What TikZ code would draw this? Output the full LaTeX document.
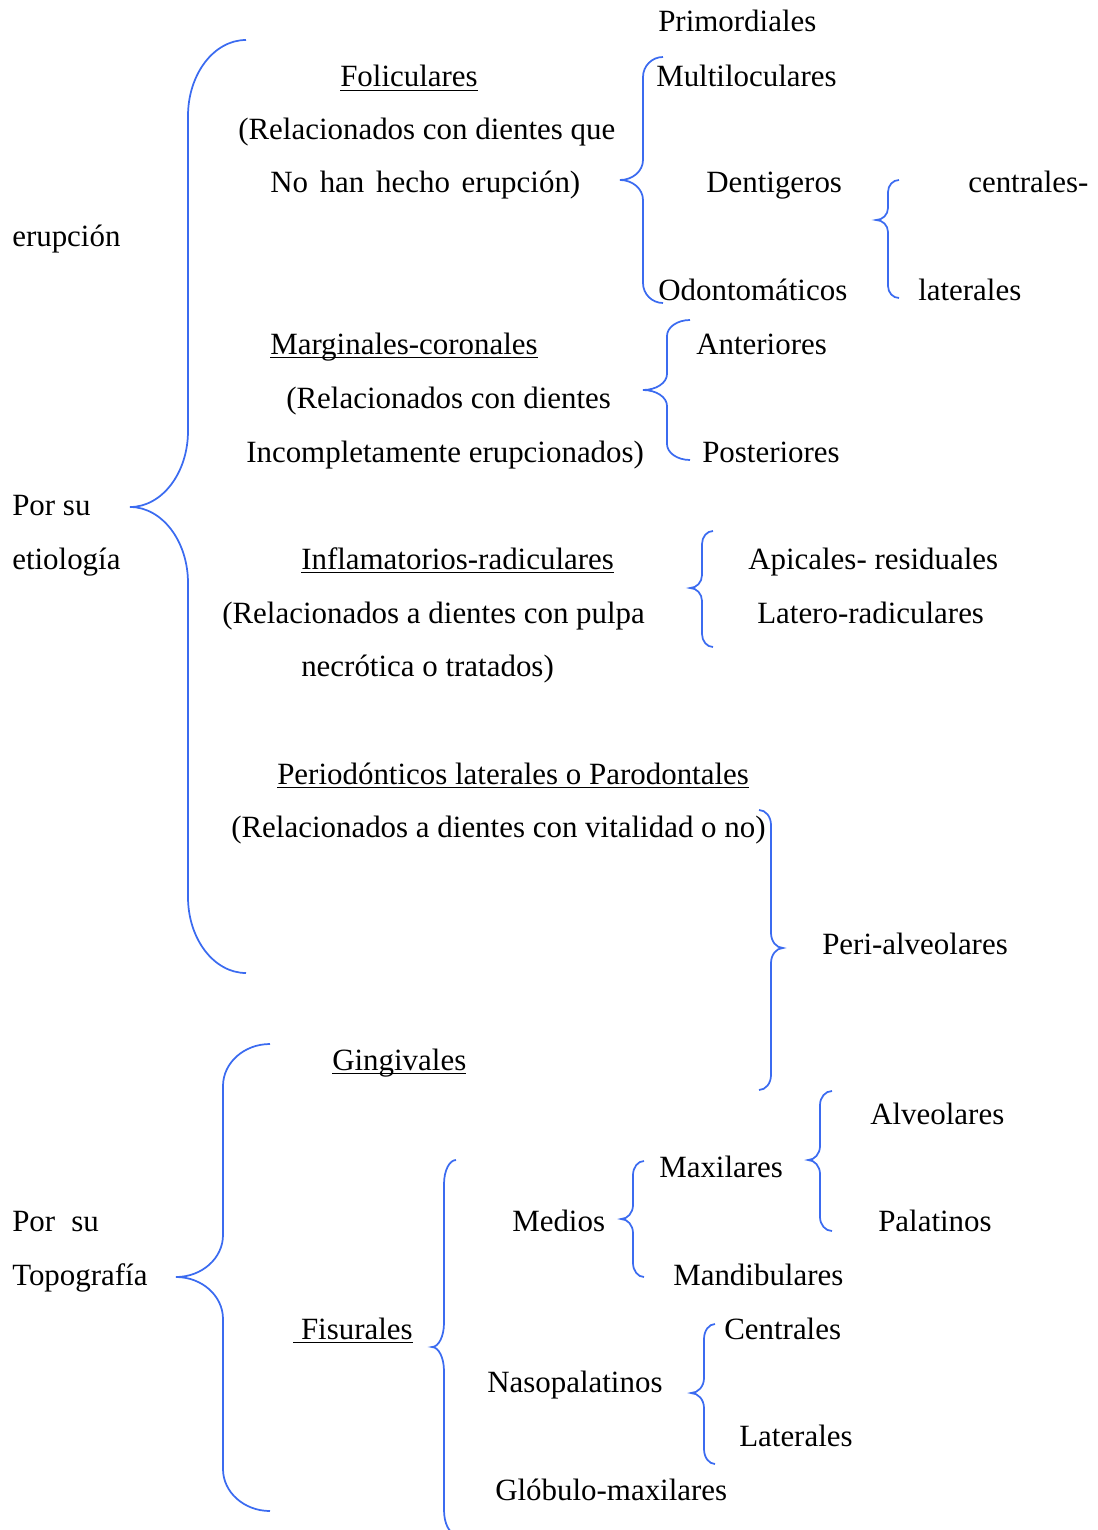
\documentclass[tikz,border=0pt]{standalone}
\usepackage{fontspec}
\setmainfont{Liberation Serif}
\definecolor{llaveazul}{RGB}{59,107,240}

\tikzstyle{txt} = [anchor=base west, inner sep=0pt, font=\fontsize{23.2}{28}\selectfont]
\tikzstyle{llave} = [draw=llaveazul, line width=1.3pt]

\newlength{\subrlen}
\newcommand{\subr}[1]{\settowidth{\subrlen}{#1}\rlap{\rule[-3pt]{\subrlen}{1.1pt}}#1}

\newcommand{\llaveizq}[7]{%
	\draw[llave] (#1,#4) .. controls (#2+0.448*#1-0.448*#2,#4) and (#2,#4+0.448*#7) .. (#2,#4+#7)
		-- (#2,#5-#7) .. controls (#2,#5-0.448*#7) and (#3+0.552*#2-0.552*#3,#5) .. (#3,#5)
		.. controls (#3+0.552*#2-0.552*#3,#5) and (#2,#5+0.448*#7) .. (#2,#5+#7)
		-- (#2,#6-#7) .. controls (#2,#6-0.448*#7) and (#2+0.448*#1-0.448*#2,#6) .. (#1,#6);}

\begin{document}
\begin{tikzpicture}[x=0.75pt, y=-0.75pt]
		\useasboundingbox (0,0) rectangle (1098,1530);

		\node (prim) [txt] at (658,32) {Primordiales};
		\node (fol) [txt] at (340,87) {\subr{Foliculares}};
		\node (mult) [txt] at (656,87) {Multiloculares};
		\node (folrel1) [txt] at (238,140) {(Relacionados con dientes que};
		\node (folrel2) [txt] at (270,193) {\makebox[232.5pt][s]{No han hecho erupción)}};
		\node (dent) [txt] at (706,193) {Dentigeros};
		\node (cent) [txt] at (968,193) {centrales-};
		\node (erup) [txt] at (12,247) {erupción};
		\node (odon) [txt] at (658,300) {Odontomáticos};
		\node (lat) [txt] at (918,300) {laterales};

		\node (marg) [txt] at (270,354) {\subr{Marginales-coronales}};
		\node (ant) [txt] at (696,354) {Anteriores};
		\node (margrel1) [txt] at (286,408) {(Relacionados con dientes};
		\node (margrel2) [txt] at (246,462) {Incompletamente erupcionados)};
		\node (post) [txt] at (702,462) {Posteriores};

		\node (etio1) [txt] at (12,515) {Por su};
		\node (etio2) [txt] at (12,569) {etiología};
		\node (infl) [txt] at (301,569) {\subr{Inflamatorios-radiculares}};
		\node (apic) [txt] at (748,569) {Apicales- residuales};
		\node (inflrel1) [txt] at (222,623) {(Relacionados a dientes con pulpa};
		\node (lrad) [txt] at (757,623) {Latero-radiculares};
		\node (inflrel2) [txt] at (301,676) {necrótica o tratados)};

		\node (perio) [txt] at (277,784) {\subr{Periodónticos laterales o Parodontales}};
		\node (periorel) [txt] at (231,837) {(Relacionados a dientes con vitalidad o no)};
		\node (perialv) [txt] at (822,954) {Peri-alveolares};

		\node (ging) [txt] at (332,1070) {\subr{Gingivales}};
		\node (alv) [txt] at (870,1124) {Alveolares};
		\node (max) [txt] at (659,1177) {Maxilares};
		\node (topo1) [txt] at (12,1231) {\makebox[65pt][s]{Por su}};
		\node (med) [txt] at (512,1231) {Medios};
		\node (pal) [txt] at (878,1231) {Palatinos};
		\node (topo2) [txt] at (12,1285) {Topografía};
		\node (mand) [txt] at (673,1285) {Mandibulares};
		\node (fis) [txt] at (293,1339) {\subr{\ Fisurales}};
		\node (centr) [txt] at (724,1339) {Centrales};
		\node (naso) [txt] at (487,1392) {Nasopalatinos};
		\node (late) [txt] at (739,1446) {Laterales};
		\node (glob) [txt] at (495,1500) {Glóbulo-maxilares};

		\llaveizq{246}{188}{130}{40}{507}{973}{76}
		\llaveizq{663}{643}{620}{57}{180}{303}{20}
		\llaveizq{899}{888}{876}{180}{220}{298}{12}
		\llaveizq{690}{667}{643}{320}{390}{460}{16}
		\llaveizq{713}{702}{690}{531}{588}{647}{13}
		\llaveizq{759}{771}{783}{810}{948}{1090}{15}
		\llaveizq{270}{223}{176}{1044}{1277}{1511}{42}
		\llaveizq{456}{444}{432}{1160}{1347}{1534}{24}
		\llaveizq{644}{633}{621}{1161}{1219}{1277}{14}
		\llaveizq{832}{820}{808}{1091}{1160}{1231}{14}
		\llaveizq{715}{704}{691}{1324}{1393}{1464}{15}
\end{tikzpicture}
\end{document}
